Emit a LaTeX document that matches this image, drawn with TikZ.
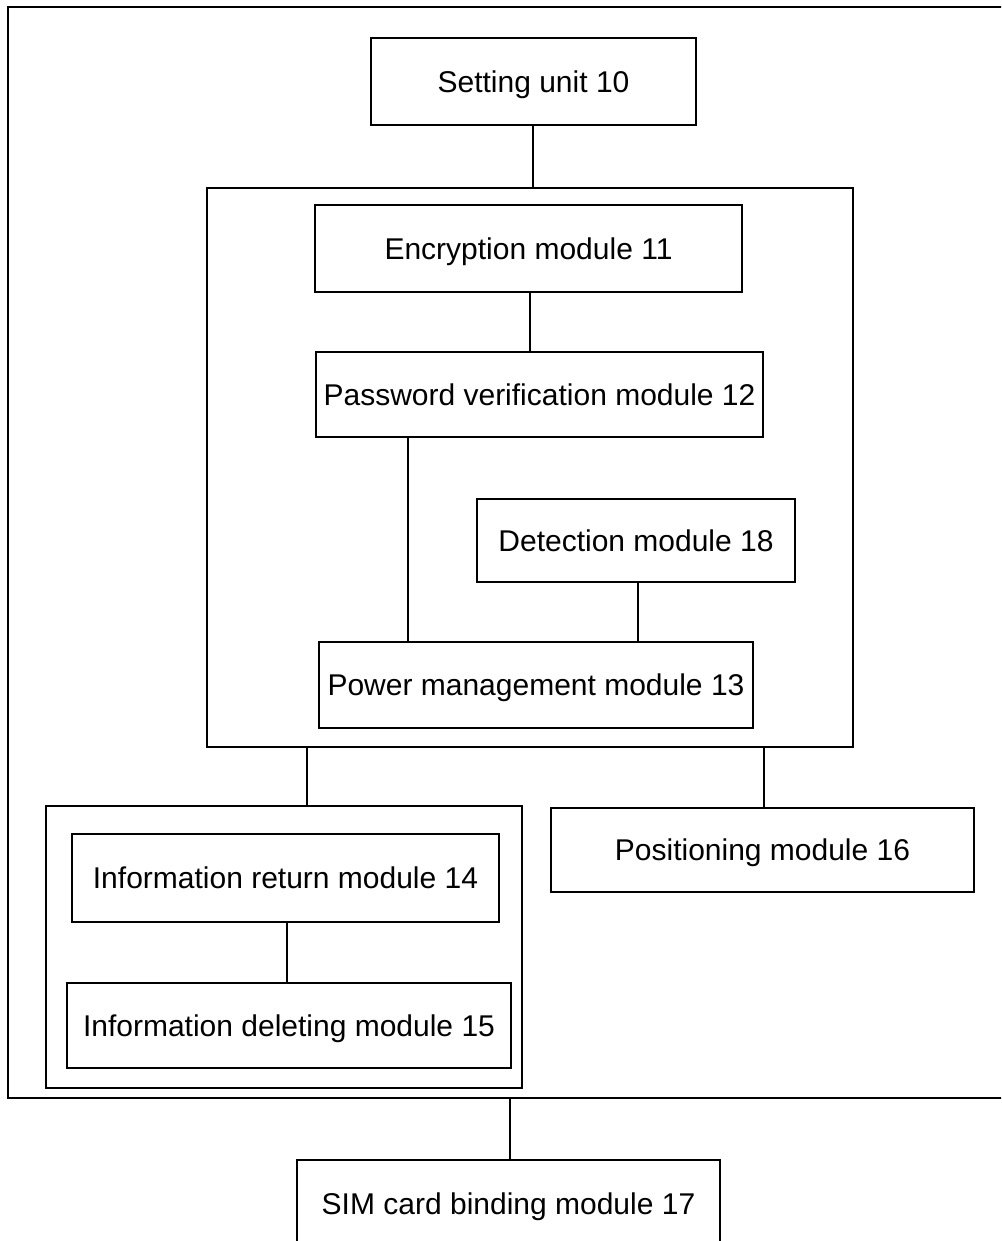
\documentclass[tikz,border=0pt]{standalone}
\usepackage{fontspec}
\setmainfont{Liberation Sans}
\begin{document}
\begin{tikzpicture}[x=1pt,y=-1pt,
  txt/.style={font=\fontsize{30}{36}\selectfont, text height=21.5pt, text depth=0pt, text=black},
  box/.style={draw=black, line width=1.6pt, rectangle, inner sep=0pt, txt},
  link/.style={draw=black, line width=1.4pt}]
\useasboundingbox (0,0) rectangle (1001,1241);
\begin{scope}
\clip (0,0) rectangle (1001,1241);
\node[box, minimum width=1002pt, minimum height=1091pt] (outer) at (509,552.5) {};
\node[box, minimum width=423pt, minimum height=100pt] (sim) at (508.5,1210) {};
\node[txt] (simt) at (508.5,1204) {SIM card binding module 17};
\end{scope}
\node[box, minimum width=325pt, minimum height=87pt] (set) at (533.5,81.5) {Setting unit 10};
\node[box, minimum width=646pt, minimum height=559pt] (inner) at (530,467.5) {};
\node[box, minimum width=427pt, minimum height=87pt] (enc) at (528.5,248.5) {Encryption module 11};
\node[box, minimum width=447pt, minimum height=85pt] (pwd) at (539.5,394.5) {Password verification module 12};
\node[box, minimum width=318pt, minimum height=83pt] (det) at (636,540.5) {Detection module 18};
\node[box, minimum width=434pt, minimum height=86pt] (pow) at (536,685) {Power management module 13};
\node[box, minimum width=476pt, minimum height=282pt] (grp) at (284,947) {};
\node[box, minimum width=427pt, minimum height=88pt] (ret) at (285.5,878) {Information return module 14};
\node[box, minimum width=444pt, minimum height=85pt] (del) at (289,1025.5) {Information deleting module 15};
\node[box, minimum width=423pt, minimum height=84pt] (pos) at (762.5,850) {Positioning module 16};

\draw[link] ([xshift=-0.5pt]set.south) -- ([xshift=-0.5pt]set.south |- inner.north);
\draw[link] ([xshift=1.5pt]enc.south) -- ([xshift=1.5pt]enc.south |- pwd.north);
\draw[link] ([xshift=-131.5pt]pwd.south) -- ([xshift=-131.5pt]pwd.south |- pow.north);
\draw[link] ([xshift=2pt]det.south) -- ([xshift=2pt]det.south |- pow.north);
\draw[link] ([xshift=-223pt]inner.south) -- ([xshift=-223pt]inner.south |- grp.north);
\draw[link] ([xshift=234pt]inner.south) -- ([xshift=234pt]inner.south |- pos.north);
\draw[link] ([xshift=1.5pt]ret.south) -- ([xshift=1.5pt]ret.south |- del.north);
\draw[link] ([xshift=1.5pt]sim.north |- outer.south) -- ([xshift=1.5pt]sim.north);
\end{tikzpicture}
\end{document}
